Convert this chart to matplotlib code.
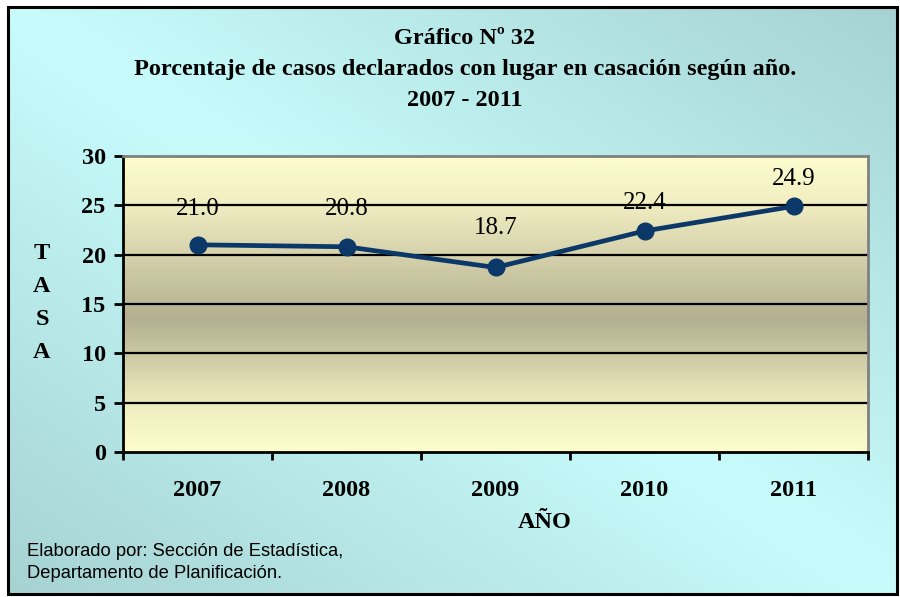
import numpy as np
import matplotlib.pyplot as plt
from matplotlib.colors import LinearSegmentedColormap
from matplotlib.patches import Rectangle

### Data
years = ['2007', '2008', '2009', '2010', '2011']
tasa = [21.0, 20.8, 18.7, 22.4, 24.9]
yticks = [0, 5, 10, 15, 20, 25, 30]
label_offsets = [36, 38, 39, 28, 27]  # px above each point

W, H = 900, 597
fig = plt.figure(figsize=(9, 5.97), dpi=100, facecolor='white')

### Figure background (diagonal cyan gradient inside black frame)
x0, y0, x1, y1 = 8 / W, 1 - 594 / H, 897 / W, 1 - 7 / H
bg = fig.add_axes([x0, y0, x1 - x0, y1 - y0], zorder=0)
u, v = np.meshgrid(np.linspace(0, 1, 300), np.linspace(0, 1, 200))
grad = np.abs(u - v)
cmap_bg = LinearSegmentedColormap.from_list('bg', ['#c8fcfc', '#a6d2d2'])
bg.imshow(grad, cmap=cmap_bg, aspect='auto', extent=[0, 1, 0, 1], origin='upper')
bg.set_xlim(0, 1)
bg.set_ylim(0, 1)
bg.set_axis_off()
fig.patches.append(Rectangle((x0, y0), x1 - x0, y1 - y0, transform=fig.transFigure,
                             fill=False, edgecolor='black', linewidth=2.2, zorder=5))

### Plot area
left, right, top, bottom = 123 / W, 868 / W, 1 - 156 / H, 1 - 452 / H
ax = fig.add_axes([left, bottom, right - left, top - bottom], zorder=2)
ax.set_xlim(-0.5, len(years) - 0.5)
ax.set_ylim(0, 30)

cmap_pl = LinearSegmentedColormap.from_list(
    'pl', [(0, '#fdfccd'), (0.15, '#f2efc3'), (0.55, '#b3af90'), (0.85, '#f0eec0'), (1, '#fdfccd')])
ax.imshow(np.linspace(0, 1, 200).reshape(-1, 1), cmap=cmap_pl, aspect='auto',
          extent=[-0.5, len(years) - 0.5, 0, 30], origin='upper', zorder=0)

for yv in yticks[1:-1]:
    ax.axhline(yv, color='black', linewidth=1.6, zorder=1)

xs = np.arange(len(years))
ax.plot(xs, tasa, color='#0b3868', linewidth=3.4, marker='o', markersize=12,
        zorder=3, clip_on=False)
for xi, val, off in zip(xs, tasa, label_offsets):
    ax.annotate('%.1f' % val, (xi, val), xytext=(0, off * 0.72), textcoords='offset points',
                ha='center', va='center', fontsize=18, family='Liberation Serif',
                color='black', zorder=4)

### Spines and ticks
ax.spines['left'].set_linewidth(2)
ax.spines['bottom'].set_linewidth(2)
ax.spines['top'].set_color('#808080')
ax.spines['right'].set_color('#808080')
ax.spines['top'].set_linewidth(2)
ax.spines['right'].set_linewidth(2)

ax.set_yticks(yticks)
ax.set_yticklabels([str(t) for t in yticks], fontsize=17.5, fontweight='bold',
                   family='Liberation Serif')
ax.tick_params(axis='y', direction='out', length=6.5, width=2, pad=6)

ax.set_xticks(np.arange(-0.5, len(years), 1.0))
ax.set_xticklabels([])
ax.tick_params(axis='x', which='major', direction='out', length=6, width=2)
ax.set_xticks(xs, minor=True)
ax.set_xticklabels(years, minor=True, fontsize=17.5, fontweight='bold',
                   family='Liberation Serif')
ax.tick_params(axis='x', which='minor', length=0, pad=20)

### Titles and labels
serif = dict(family='Liberation Serif', fontweight='bold', fontsize=17.5,
             ha='center', va='center')
fig.text(465 / W, 1 - 38 / H, 'Gráfico Nº 32', **serif)
fig.text(465 / W, 1 - 70 / H,
         'Porcentaje de casos declarados con lugar en casación según año.', **serif)
fig.text(465 / W, 1 - 101 / H, '2007 - 2011', **serif)
fig.text(42 / W, 1 - 303 / H, 'T\nA\nS\nA', linespacing=1.75, **serif)
fig.text(545 / W, 1 - 523 / H, 'AÑO', **serif)

fig.text(27 / W, 1 - 552 / H, 'Elaborado por: Sección de Estadística,',
         family='Liberation Sans', fontsize=13.2, ha='left', va='center')
fig.text(27 / W, 1 - 573 / H, 'Departamento de Planificación.',
         family='Liberation Sans', fontsize=13.2, ha='left', va='center')

plt.savefig('out.png', dpi=100)
